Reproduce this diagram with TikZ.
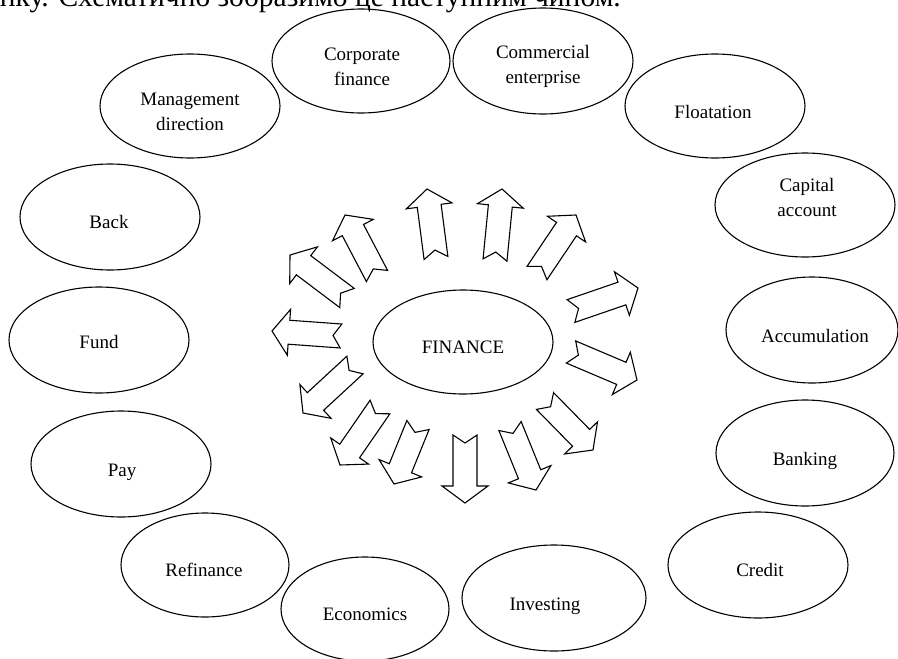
\documentclass[tikz,border=0pt]{standalone}
\usepackage{fontspec}
\setmainfont{Liberation Serif}
\usetikzlibrary{shapes.geometric,calc}
\tikzset{
  oval/.style={draw, ellipse, line width=1.1pt, inner sep=0pt},
  lbl/.style={font=\fontsize{19}{25}\selectfont, inner sep=0pt, align=center},
  arr/.style={draw, line width=1.1pt, line join=miter, fill=white},
}
\newcommand\notchedarrow[3]{%
  \coordinate (#1t) at #2;
  \coordinate (#1p) at #3;
  \coordinate (#1h) at ($(#1p)!17pt!(#1t)$);
  \draw[arr] ($(#1t)!12pt!90:(#1p)$) -- ($(#1h)!12pt!90:(#1p)$)
    -- ($(#1h)!23pt!90:(#1p)$) -- (#1p) -- ($(#1h)!23pt!-90:(#1p)$)
    -- ($(#1h)!12pt!-90:(#1p)$) -- ($(#1t)!12pt!-90:(#1p)$)
    -- ($(#1t)!8pt!(#1p)$) -- cycle;
}
\begin{document}
\begin{tikzpicture}[x=1pt,y=-1pt]
\useasboundingbox (0,0) rectangle (898,659);
\clip (0,0) rectangle (898,659);

% cut-off line of text at the top
\node[anchor=base east, inner sep=0pt] (topline) at (621,6.5)
  {\resizebox{621pt}{!}{\fontsize{28}{30}\selectfont нку. Схематично зобразимо це наступним чином.}};

% ellipses
\node[oval, minimum width=180pt, minimum height=104pt] (mgmt) at (190,106) {};
\node[oval, minimum width=178pt, minimum height=104pt] (corp) at (361,61) {};
\node[oval, minimum width=180pt, minimum height=106pt] (comm) at (543,61) {};
\node[oval, minimum width=180pt, minimum height=104pt] (float) at (715,106) {};
\node[oval, minimum width=180pt, minimum height=104pt] (capital) at (805,205) {};
\node[oval, minimum width=180pt, minimum height=106pt] (back) at (110,217) {};
\node[oval, minimum width=180pt, minimum height=106pt] (fund) at (99,340) {};
\node[oval, minimum width=172pt, minimum height=106pt] (accum) at (812,330) {};
\node[oval, minimum width=180pt, minimum height=106pt] (pay) at (121,464) {};
\node[oval, minimum width=178pt, minimum height=106pt] (bank) at (805,453) {};
\node[oval, minimum width=168pt, minimum height=104pt] (refin) at (205,565) {};
\node[oval, minimum width=180pt, minimum height=106pt] (credit) at (758,565) {};
\node[oval, minimum width=168pt, minimum height=104pt] (econ) at (365,609) {};
\node[oval, minimum width=184pt, minimum height=106pt] (invest) at (554,598) {};
\node[oval, minimum width=180pt, minimum height=104pt] (fin) at (463,342) {};

% labels
\node[lbl] (tmgmt) at (190,111.5) {Management\\direction};
\node[lbl] (tcorp) at (362,66.5) {Corporate\\finance};
\node[lbl] (tcomm) at (543,66) {Commercial\\enterprise};
\node[lbl, anchor=base] (tfloat) at (713,118.5) {Floatation};
\node[lbl] (tcapital) at (807,197.5) {Capital\\account};
\node[lbl, anchor=base] (tback) at (109,228.5) {Back};
\node[lbl, anchor=base] (tfund) at (99,348.5) {Fund};
\node[lbl, anchor=base] (taccum) at (815,342.5) {Accumulation};
\node[lbl, anchor=base] (tpay) at (122,476.5) {Pay};
\node[lbl, anchor=base] (tbank) at (805,465.5) {Banking};
\node[lbl, anchor=base] (trefin) at (204,576.5) {Refinance};
\node[lbl, anchor=base] (tcredit) at (760,576.5) {Credit};
\node[lbl, anchor=base] (tecon) at (365,620.5) {Economics};
\node[lbl, anchor=base] (tinvest) at (545,610.5) {Investing};
\node[lbl, anchor=base] (tfin) at (463,353.5) {FINANCE};

% radiating arrows
\notchedarrow{a}{(436,258)}{(427,189)}
\notchedarrow{b}{(495,260)}{(502,189)}
\notchedarrow{c}{(537,273)}{(576,215)}
\notchedarrow{d}{(571,311)}{(638,288)}
\notchedarrow{e}{(571,352)}{(637,380)}
\notchedarrow{f}{(545,401)}{(593,450)}
\notchedarrow{g}{(510,426)}{(536,490)}
\notchedarrow{h}{(465,435)}{(465,503)}
\notchedarrow{i}{(418,425)}{(394,484)}
\notchedarrow{j}{(380,407)}{(340,465)}
\notchedarrow{k}{(355,365)}{(303,413)}
\notchedarrow{l}{(341,336)}{(272,331)}
\notchedarrow{m}{(347,298)}{(290,255)}
\notchedarrow{n}{(377,276)}{(345,215)}
\end{tikzpicture}
\end{document}
